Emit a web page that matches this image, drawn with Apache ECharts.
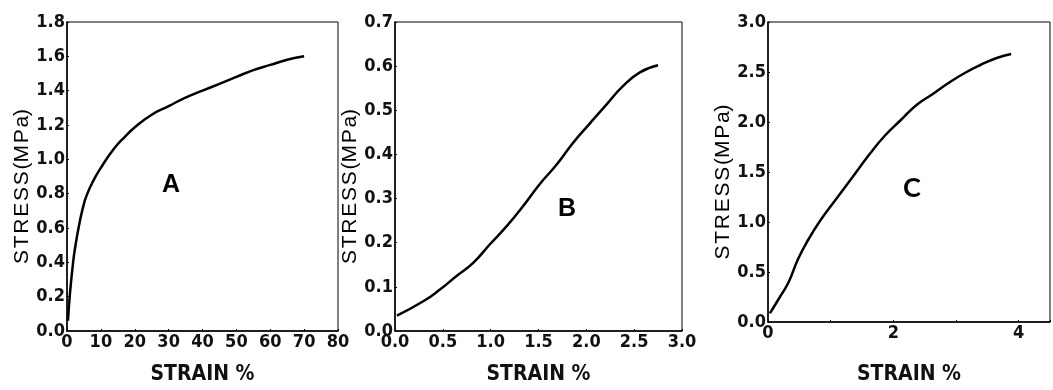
<!DOCTYPE html>
<html>
<head>
<meta charset="utf-8">
<script src="https://cdn.jsdelivr.net/npm/echarts@6/dist/echarts.min.js"></script>
<style>
  html, body { margin: 0; padding: 0; background: #fff; }
  #chart { width: 1053px; height: 390px; }
</style>
</head>
<body>
<div id="chart"></div>
<script>
// panel A: strain %, stress MPa
const strainA = [0.3, 0.8, 1.8, 2.6, 3.5, 4.6, 5.8, 7.9, 10.3, 13.8, 17, 20.2, 25, 30, 35, 40, 45, 50, 55, 60, 65, 70];
const stressA = [0.06, 0.2, 0.4, 0.51, 0.61, 0.71, 0.79, 0.88, 0.96, 1.06, 1.13, 1.19, 1.26, 1.31, 1.36, 1.4, 1.44, 1.48, 1.52, 1.55, 1.58, 1.6];

// panel B
const strainB = [0.02, 0.3, 0.47, 0.64, 0.82, 0.99, 1.17, 1.34, 1.51, 1.69, 1.86, 2.04, 2.21, 2.38, 2.56, 2.75];
const stressB = [0.035, 0.068, 0.094, 0.124, 0.155, 0.196, 0.238, 0.283, 0.332, 0.377, 0.426, 0.471, 0.513, 0.554, 0.586, 0.602];

// panel C
const strainC = [0.03, 0.18, 0.33, 0.48, 0.64, 0.84, 1.1, 1.35, 1.61, 1.86, 2.12, 2.37, 2.63, 2.88, 3.14, 3.39, 3.65, 3.88];
const stressC = [0.087, 0.24, 0.4, 0.63, 0.82, 1.02, 1.24, 1.45, 1.67, 1.86, 2.02, 2.17, 2.28, 2.39, 2.49, 2.57, 2.64, 2.68];

const panelLetters = ['A', 'B', 'C'];

// 'condensed' rides along in the weight slot of the canvas font string
const narrow = '"DejaVu Sans", "Liberation Sans", sans-serif';
const tickFont = { fontFamily: narrow, fontWeight: 'bold condensed', fontSize: 18, color: '#111' };
const nameFont = { fontFamily: narrow, fontWeight: 'bold condensed', fontSize: 21, color: '#111' };
const yNameFont = { fontFamily: 'Arial, "Liberation Sans", sans-serif', fontSize: 21, color: '#000', padding: [0, 20, 0, 0] };
const yName = 'S\u200aT\u200aR\u200aE\u200aS\u200aS\u200a(M\u200aP\u200aa)';

const pairs = (xs, ys) => xs.map((x, i) => [x, ys[i]]);

function xAxis(idx, max, interval, fmt) {
  return {
    type: 'value', gridIndex: idx, min: 0, max: max, interval: interval,
    name: 'STRAIN %', nameLocation: 'middle', nameGap: idx === 2 ? 42 : 33, nameTextStyle: nameFont,
    axisLine: { lineStyle: { color: '#000', width: 1.5 } },
    axisTick: { inside: true, length: 2, lineStyle: { color: '#000' } },
    axisLabel: Object.assign({ margin: 2, formatter: fmt }, tickFont),
    splitLine: { show: false }
  };
}
function yAxis(idx, max, interval, gap) {
  return {
    type: 'value', gridIndex: idx, min: 0, max: max, interval: interval,
    name: yName, nameLocation: 'middle', nameGap: gap, nameTextStyle: yNameFont,
    axisLine: { show: true, lineStyle: { color: '#000', width: 1.5 } },
    axisTick: { show: true, inside: true, length: 2, lineStyle: { color: '#000' } },
    axisLabel: Object.assign({ margin: 2, formatter: v => v.toFixed(1) }, tickFont),
    splitLine: { show: false }
  };
}
function curve(idx, data) {
  return {
    type: 'line', xAxisIndex: idx, yAxisIndex: idx, data: data,
    showSymbol: false, smooth: 0.5, lineStyle: { color: '#000', width: 2.5 },
    animation: false
  };
}

const chart = echarts.init(document.getElementById('chart'), null, { renderer: 'canvas' });
chart.setOption({
  animation: false,
  grid: [
    { left: 67, top: 22, width: 271, height: 310, show: true, borderColor: '#000', borderWidth: 1 },
    { left: 395, top: 22, width: 287, height: 310, show: true, borderColor: '#000', borderWidth: 1 },
    { left: 768, top: 22, width: 295, height: 310, show: true, borderColor: '#000', borderWidth: 1 }
  ],
  xAxis: [
    xAxis(0, 80, 10, v => String(v)),
    xAxis(1, 3, 0.5, v => v.toFixed(1)),
    xAxis(2, 4.5, 1, v => (v % 2 === 0 ? String(v) : ''))
  ],
  yAxis: [
    yAxis(0, 1.8, 0.2, 33),
    yAxis(1, 0.7, 0.1, 30),
    yAxis(2, 3.0, 0.5, 34)
  ],
  series: [
    curve(0, pairs(strainA, stressA)),
    curve(1, pairs(strainB, stressB)),
    curve(2, pairs(strainC, stressC))
  ],
  graphic: [
    { type: 'text', left: 162, top: 173, style: { text: panelLetters[0], font: 'bold 25px Arial, "Liberation Sans", sans-serif', fill: '#000' } },
    { type: 'text', left: 558, top: 197, style: { text: panelLetters[1], font: 'bold 25px Arial, "Liberation Sans", sans-serif', fill: '#000' } },
    { type: 'text', left: 903, top: 175, style: { text: panelLetters[2], font: 'bold 27px Lato, "Open Sans", sans-serif', fill: '#000' } }
  ]
});
</script>
</body>
</html>
